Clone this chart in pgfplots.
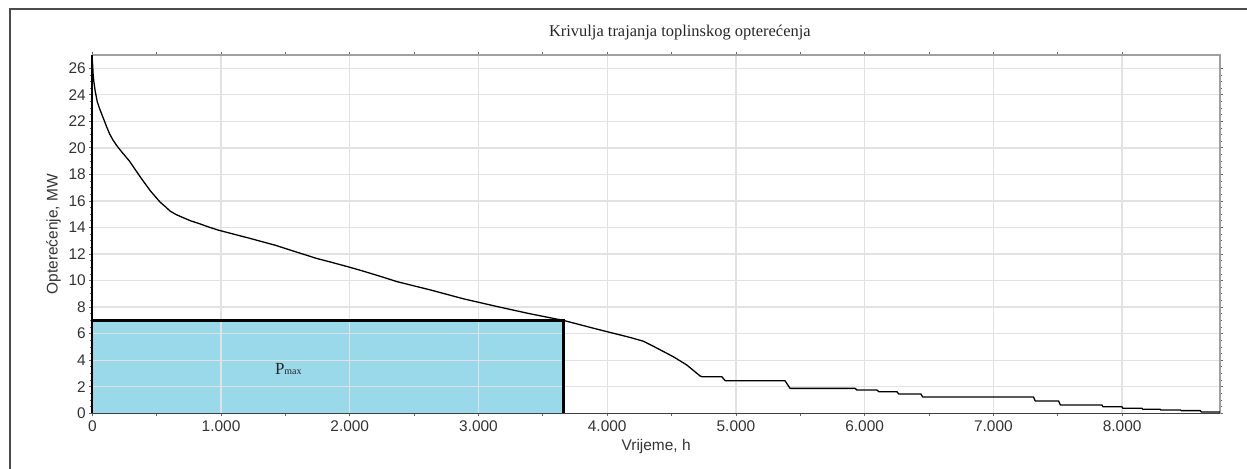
\documentclass[border=0pt]{standalone}
\usepackage{fontspec}
\setmainfont{Liberation Sans}
\newfontfamily\seriffont{Liberation Serif}
\usepackage{pgfplots}
\pgfplotsset{compat=1.18}
\definecolor{fillblue}{HTML}{9AD9EA}
\definecolor{gridgray}{HTML}{E2E2E2}
\definecolor{boxgray}{HTML}{A0A0A0}
\definecolor{textgray}{HTML}{333333}
\pgfplotsset{common/.style={at={(92.3bp,55.7bp)}, anchor=south west, scale only axis,
  width=1127.7bp, height=358.3bp, xmin=0, xmax=8760, ymin=0, ymax=27}}
\begin{document}
\begin{tikzpicture}
\useasboundingbox (0,0) rectangle (1247bp,469bp);
\draw[color=black!70, line width=1.5bp] (10bp,0) -- (10bp,460bp) -- (1247bp,460bp);
\begin{axis}[common, name=ax, axis on top,
  xtick={0,1000,...,8000},
  xticklabels={0,1.000,2.000,3.000,4.000,5.000,6.000,7.000,8.000},
  ytick={0,2,...,26},
  minor x tick num=1, minor y tick num=3,
  tick align=outside, major tick length=3bp, minor tick length=2.5bp,
  tick style={color=black!60, line width=0.8bp},
  grid=major, major grid style={color=gridgray, line width=1.3bp},
  axis line style={color=boxgray, line width=1.5bp},
  ticklabel style={font=\fontsize{15.5}{16}\selectfont, text=textgray},
  xticklabel style={yshift=-1bp},
  /pgf/number format/assume math mode=true,
  title={Krivulja trajanja toplinskog opterećenja},
  title style={font=\seriffont\fontsize{16.5}{18}\selectfont, text=black!85, at={(axis description cs:0.521,1.047)}, anchor=center},
  xlabel={Vrijeme, h},
  xlabel style={font=\fontsize{15.5}{16}\selectfont, text=textgray, at={(axis description cs:0.5,-0.0913)}, anchor=center},
  ylabel={Opterećenje, MW},
  ylabel style={font=\fontsize{15.5}{16}\selectfont, text=textgray, at={(axis description cs:-0.0344,0.5)}, anchor=center},
]
\addplot[fill=fillblue, draw=none] coordinates {(0,0) (0,7) (3660,7) (3660,0)} -- cycle;
\end{axis}
\begin{axis}[common, hide axis]
\addplot[black, line width=2.5bp] coordinates {(0,7) (3660,7) (3660,0)};
\addplot[black, line width=1.3bp, line join=round] coordinates {
(0,26.6) (3,26.2) (6,25.6) (12,25.0) (22,24.3) (38,23.5) (55,23.0) (75,22.5) (95,22.0) (113,21.55)
(135,21.05) (160,20.6) (188,20.2) (220,19.8) (289,19.0) (377,17.75) (452,16.75) (528,15.9) (570,15.55) (603,15.25)
(650,14.98) (704,14.75) (765,14.5) (829,14.3) (900,14.05) (980,13.8)
(1225,13.18) (1419,12.67) (1538,12.3) (1743,11.67) (1850,11.4) (2002,11.0) (2109,10.7) (2261,10.25) (2367,9.92)
(2625,9.3) (2884,8.625) (3142,8.05) (3400,7.5) (3660,7.0) (3917,6.35) (4176,5.72) (4281,5.43)
(4359,5.05) (4514,4.26) (4618,3.64) (4722,2.81) (4735,2.76) (4890,2.76) (4916,2.46)
(5381,2.46) (5420,1.88) (5926,1.88) (5940,1.75) (6095,1.75) (6110,1.63) (6250,1.63)
(6265,1.45) (6437,1.45) (6450,1.23) (7311,1.23) (7325,0.93) (7506,0.93) (7520,0.63)
(7843,0.63) (7850,0.5) (7998,0.5) (8005,0.38) (8154,0.38) (8160,0.3) (8296,0.3)
(8300,0.25) (8452,0.25) (8460,0.2) (8607,0.2) (8615,0.1) (8760,0.1)
};
\node[font=\seriffont, text=black!85, inner sep=0pt] at (axis cs:1523,3.34) {\fontsize{17}{17}\selectfont P\fontsize{10}{10}\selectfont max};
\end{axis}
\draw[black, line width=2bp] (ax.south west) -- (ax.north west);
\draw[black!75, line width=1.5bp] (ax.south west) -- (ax.south east);
\end{tikzpicture}
\end{document}
